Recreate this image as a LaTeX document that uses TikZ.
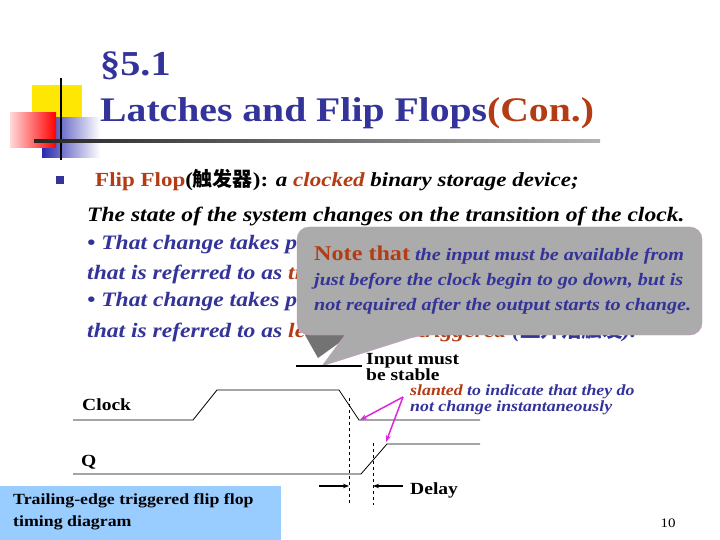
\documentclass[tikz,border=0pt]{standalone}
\usepackage{fontspec}
\setmainfont{Liberation Serif}[FakeStretch=1.15]
\newfontfamily\cjk{Noto Sans CJK SC}
\usetikzlibrary{arrows.meta}
\definecolor{navy}{RGB}{51,51,153}
\definecolor{dred}{RGB}{180,60,20}
\definecolor{magent}{RGB}{220,40,220}
\definecolor{lblue}{RGB}{153,204,255}
\tikzset{txt/.style={anchor=west,inner sep=0pt,font=\fontsize{20.5}{21}\selectfont\bfseries\itshape},
 wave/.style={line width=0.8pt},
 guide/.style={dashed,line width=0.6pt},
 mag/.style={magent,line width=1.5pt,-{Stealth[length=7pt]}},
 blk/.style={line width=1.2pt,-{Stealth[length=6pt]}}}
\begin{document}
\begin{tikzpicture}[x=1pt,y=-1pt]
\useasboundingbox (0,0) rectangle (720,540);
\fill[white] (0,0) rectangle (720,540);
% decoration
\fill[yellow!90!orange] (32,85) rectangle (82,118);
\shade[left color=navy!80!blue, right color=white] (42,118) rectangle (100,158);
\shade[left color=red!15, right color=red] (10,113) rectangle (56,148);
\draw[line width=2pt] (61,78) -- (61,160);
\shade[left color=black!85,right color=black!30] (34,140) rectangle (600,143);
% title
\node[anchor=west,inner sep=0pt,navy,font=\fontsize{35}{36}\selectfont\bfseries] (t1) at (100,66) {§5.1};
\node[anchor=west,inner sep=0pt,navy,font=\fontsize{34.5}{36}\selectfont\bfseries] (t2) at (100,113) {Latches and Flip Flops\textcolor{dred}{(Con.)}};
\fill[navy] (56,176) rectangle (64,184);
\node[anchor=west,inner sep=0pt,font=\fontsize{20}{20}\selectfont\bfseries] (l0) at (95,180) {\textcolor{dred}{Flip Flop}({\cjk 触发器}): \itshape a \textcolor{dred}{clocked} binary storage device;};
\node[txt] (l1) at (87,216) {The state of the system changes on the transition of the clock.};
\node[txt,navy] (l2) at (87,245) {• That change takes place on the trailing edge,};
\node[txt,navy] (l3) at (87,273) {that is referred to as \textcolor{dred}{trailing-edge triggered} ({\cjk\upshape 下降沿触发}).};
\node[txt,navy] (l4) at (87,302) {• That change takes place on the leading edge,};
\node[txt,navy] (l5) at (87,331) {that is referred to as \textcolor{dred}{leading-edge triggered} ({\cjk\upshape 上升沿触发}).};
% callout
\fill[black!55] (305,335) -- (318,358) -- (350,335) -- cycle;
\fill[black!33,draw=violet!40] (297,227) [rounded corners=12pt] -- (702,227) -- (702,335) -- (420,335) [sharp corners] -- (322,366) -- (345,335) [rounded corners=12pt] -- (297,335) -- cycle;
\node[anchor=north west,inner sep=0pt,align=left,navy,font=\fontsize{17.5}{25}\selectfont\bfseries\itshape] (note) at (314,246) {\textcolor{dred}{\upshape\fontsize{21}{25}\selectfont Note that} the input must be available from\\just before the clock begin to go down, but is\\not required after the output starts to change.};
% input must be stable
\coordinate (ia) at (296,366); \coordinate (ib) at (362,366);
\draw[line width=2pt] (ia) -- (ib);
\node[anchor=west,inner sep=0pt,align=left,font=\fontsize{17}{16}\selectfont\bfseries] (inp) at (366,367) {Input must\\be stable};
% waveforms
\node[anchor=west,inner sep=0pt,font=\fontsize{17}{17}\selectfont\bfseries] (clk) at (82,405) {Clock};
\node[anchor=west,inner sep=0pt,font=\fontsize{17}{17}\selectfont\bfseries] (q) at (81,462) {Q};
\coordinate (c0) at (73,420); \coordinate (c1) at (193,420); \coordinate (c2) at (217,390);
\coordinate (c3) at (339,390); \coordinate (c4) at (359,420); \coordinate (c5) at (480,420);
\draw[wave] (c0) -- (c1) -- (c2) -- (c3) -- (c4) -- (c5);
\coordinate (q0) at (73,474); \coordinate (q1) at (361,474); \coordinate (q2) at (387,444); \coordinate (q3) at (480,444);
\draw[wave] (q0) -- (q1) -- (q2) -- (q3);
\coordinate (d1t) at (349,398); \coordinate (d1b) at (349,505);
\coordinate (d2t) at (373,443); \coordinate (d2b) at (373,505);
\draw[guide] (d1t) -- (d1b); \draw[guide] (d2t) -- (d2b);
\coordinate (a1) at (319,486); \coordinate (a1e) at (349,486);
\coordinate (a2) at (403,486); \coordinate (a2e) at (373,486);
\draw[blk] (a1) -- (a1e); \draw[blk] (a2) -- (a2e);
\node[anchor=west,inner sep=0pt,font=\fontsize{17}{17}\selectfont\bfseries] (delay) at (410,490) {Delay};
% slanted note
\node[anchor=west,inner sep=0pt,align=left,navy,font=\fontsize{15.5}{16}\selectfont\bfseries\itshape] (sl) at (410,400) {\textcolor{dred}{slanted} to indicate that they do\\not change instantaneously};
\coordinate (m0) at (403,397); \coordinate (m1) at (360,420); \coordinate (m2) at (386,442);
\draw[mag] (m0) -- (m1); \draw[mag] (m0) -- (m2);
% blue box
\node[fill=lblue,anchor=north west,minimum width=281pt,minimum height=54pt,inner sep=0pt] (bx) at (0,486) {};
\node[anchor=west,inner sep=0pt,align=left,font=\fontsize{15.5}{22}\selectfont\bfseries] (bt) at (13,512) {Trailing-edge triggered flip flop\\timing diagram};
\node[font=\fontsize{13}{13}\selectfont] (pg) at (668,523) {10};
\end{tikzpicture}
\end{document}
